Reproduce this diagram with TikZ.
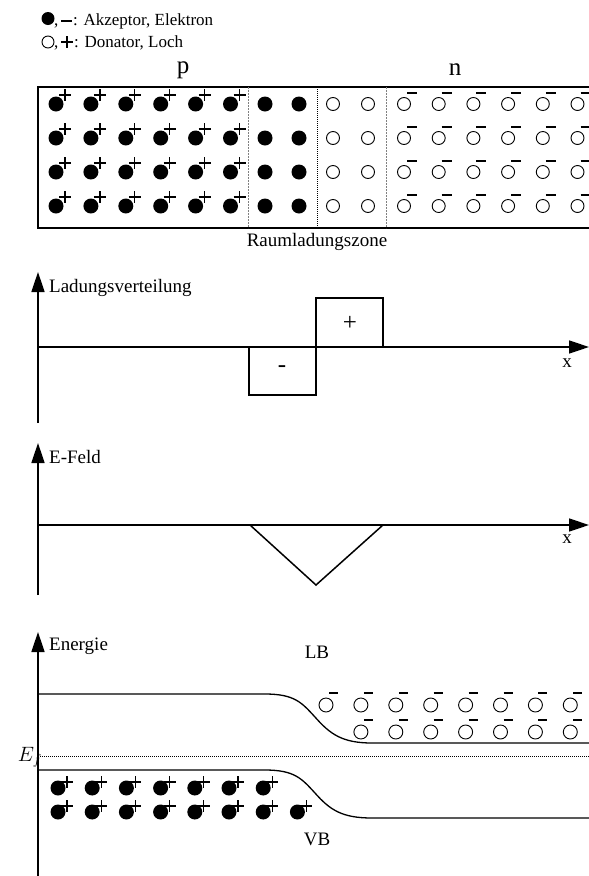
\documentclass[tikz,border=0pt]{standalone}
\usepackage{fontspec}
\setmainfont{Liberation Serif}
\usetikzlibrary{arrows.meta}
\newcommand\myfs[1]{\fontsize{#1}{#1}\selectfont}
\begin{document}
\begin{tikzpicture}[x=1pt,y=-1pt,
  axisline/.style={line width=1.6pt,-{Triangle[length=20pt,width=13pt]}},
  plainline/.style={line width=1.5pt},
  curveline/.style={line width=1.3pt},
  accdot/.style={circle,fill=black,inner sep=0pt,minimum size=#1},
  accdot/.default=15pt,
  dondot/.style={circle,draw=black,line width=0.9pt,inner sep=0pt,minimum size=#1},
  dondot/.default=13pt,
  plusmark/.style={line width=1.3pt},
  minusmark/.style={line width=2.2pt},
  lbl/.style={font=\myfs{19},inner sep=0pt},
  smalllbl/.style={font=\myfs{17},inner sep=0pt},
]
\useasboundingbox (0,0) rectangle (589,876);

% ---------- legend ----------
\node[accdot=13pt] (lg1) at (48,18.5) {};
\node[smalllbl,anchor=base west] (lgc1) at (54,25) {,};
\draw[line width=2.4pt] (61,21) -- (72,21);
\node[smalllbl,anchor=base west] (lgt1) at (73,25) {: Akzeptor, Elektron};
\node[dondot=12pt] (lg2) at (48,42) {};
\node[smalllbl,anchor=base west] (lgc2) at (54,47) {,};
\draw[line width=1.4pt] (61,42) -- (73,42) (67,36) -- (67,48);
\node[smalllbl,anchor=base west] (lgt2) at (74,47) {: Donator, Loch};

% ---------- crystal box ----------
\node[font=\myfs{25},inner sep=0pt] (plabel) at (183,70) {p};
\node[font=\myfs{25},inner sep=0pt] (nlabel) at (455,70) {n};
\draw[line width=1.6pt] (38,87) rectangle (592,228);
\draw[gray,line width=1pt,dash pattern=on 2pt off 1pt] (248,87) -- (248,228);
\draw[gray,line width=1pt,dash pattern=on 2pt off 1pt] (386,87) -- (386,228);
\draw[black,line width=1pt,dash pattern=on 1pt off 1pt] (317,87) -- (317,228);
\foreach \r in {0,...,3}{
  \pgfmathsetmacro\yy{104+34*\r}
  \foreach \c in {0,...,5}{
    \pgfmathsetmacro\xx{56+34.9*\c}
    \node[accdot] at (\xx,\yy) {};
    \draw[plusmark] (\xx+3,\yy-9) -- ++(12,0) (\xx+9,\yy-15) -- ++(0,12);
  }
  \node[accdot] at (265,\yy) {};
  \node[accdot] at (299,\yy) {};
  \node[dondot] at (333,\yy) {};
  \node[dondot] at (368,\yy) {};
  \foreach \c in {0,...,5}{
    \pgfmathsetmacro\xx{404+34.7*\c}
    \node[dondot] at (\xx,\yy) {};
    \draw[minusmark] (\xx+3,\yy-11) -- ++(10,0);
  }
}
\node[lbl,anchor=base] (rlz) at (317,246) {Raumladungszone};

% ---------- charge distribution ----------
\coordinate (q0) at (38,423);
\coordinate (qtop) at (38,272);
\coordinate (qx0) at (38,347);
\coordinate (qx1) at (589,347);
\draw[axisline] (q0) -- (qtop);
\draw[axisline] (qx0) -- (qx1);
\node[lbl,anchor=base west] (qlab) at (49,292) {Ladungsverteilung};
\node[lbl,anchor=base] (qxl) at (567,367) {x};
\draw[plainline] (249,347) -- (249,395) -- (316,395) -- (316,298) -- (383,298) -- (383,347);
\node[font=\myfs{25},inner sep=0pt] (qplus) at (350,323) {+};
\node[font=\myfs{25},inner sep=0pt] (qminus) at (282,369) {-};

% ---------- E field ----------
\coordinate (e0) at (38,595);
\coordinate (etop) at (38,443);
\coordinate (ex0) at (38,525);
\coordinate (ex1) at (589,525);
\draw[axisline] (e0) -- (etop);
\draw[axisline] (ex0) -- (ex1);
\node[lbl,anchor=base west] (elab) at (49,463) {E-Feld};
\node[lbl,anchor=base] (exl) at (567,543) {x};
\draw[plainline] (250,525) -- (316,585) -- (383,525);

% ---------- energy ----------
\coordinate (w0) at (38,876);
\coordinate (wtop) at (38,632);
\draw[axisline] (w0) -- (wtop);
\node[lbl,anchor=base west] (wlab) at (49,650) {Energie};
\node[lbl,anchor=base] (lb) at (317,658) {LB};
\node[lbl,anchor=base] (vb) at (317,845) {VB};
\draw[curveline] (38,694) -- (265,694) .. controls (295,694) and (302,703) .. (315,717)
   .. controls (330,734) and (342,743) .. (372,743) -- (589,743);
\draw[curveline] (38,770) -- (265,770) .. controls (295,770) and (302,779) .. (315,793)
   .. controls (330,810) and (342,818) .. (372,818) -- (589,818);
\draw[line width=1pt,dash pattern=on 1pt off 1pt] (40,756) -- (589,756);
\node[font=\myfs{20},inner sep=0pt,anchor=east] (ef) at (42,757) {$E_f$};
% LB electrons
\foreach \c in {0,...,7}{
  \pgfmathsetmacro\xx{326+34.9*\c}
  \node[dondot=14pt] at (\xx,705) {};
  \draw[minusmark] (\xx+3,693) -- ++(9,0);
}
\foreach \c in {1,...,7}{
  \pgfmathsetmacro\xx{326+34.9*\c}
  \node[dondot=14pt] at (\xx,732) {};
  \draw[minusmark] (\xx+3,720) -- ++(9,0);
}
% VB holes
\foreach \c in {0,...,6}{
  \pgfmathsetmacro\xx{58+34.2*\c}
  \node[accdot] at (\xx,788) {};
  \draw[plusmark] (\xx+3,782) -- ++(12,0) (\xx+9,776) -- ++(0,12);
}
\foreach \c in {0,...,7}{
  \pgfmathsetmacro\xx{58+34.2*\c}
  \node[accdot] at (\xx,812) {};
  \draw[plusmark] (\xx+3,806) -- ++(12,0) (\xx+9,800) -- ++(0,12);
}
\end{tikzpicture}
\end{document}
